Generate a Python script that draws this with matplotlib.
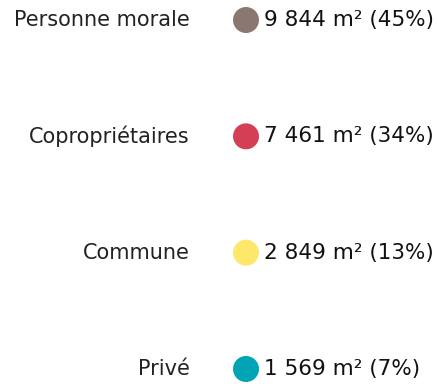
import matplotlib
matplotlib.use("Agg")
import matplotlib.pyplot as plt

# Surface by owner type
categories = ["Personne morale", "Copropriétaires", "Commune", "Privé"]
surfaces = [9844, 7461, 2849, 1569]
percents = [45, 34, 13, 7]
colors = ["#8a7770", "#d43f56", "#fde86c", "#00a4b4"]


def fmt_surface(v):
    return f"{v:,}".replace(",", " ")


fig = plt.figure(figsize=(4.39, 3.84), dpi=100)
ax = fig.add_axes([0, 0, 1, 1])
ax.set_xlim(0, 439)
ax.set_ylim(3.129, -0.172)
ax.axis("off")

font = "DejaVu Sans"
ys = list(range(len(categories)))
ax.scatter([246] * len(ys), ys, s=350, c=colors, linewidths=0, zorder=3)

for y, cat, v, p in zip(ys, categories, surfaces, percents):
    ax.text(190, y, cat, ha="right", va="center", fontsize=15,
            family=font, color="#222222")
    ax.text(264, y, f"{fmt_surface(v)} m² ({p}%)", ha="left", va="center",
            fontsize=15.5, family=font, color="#111111")

fig.savefig("out.png", dpi=100)
